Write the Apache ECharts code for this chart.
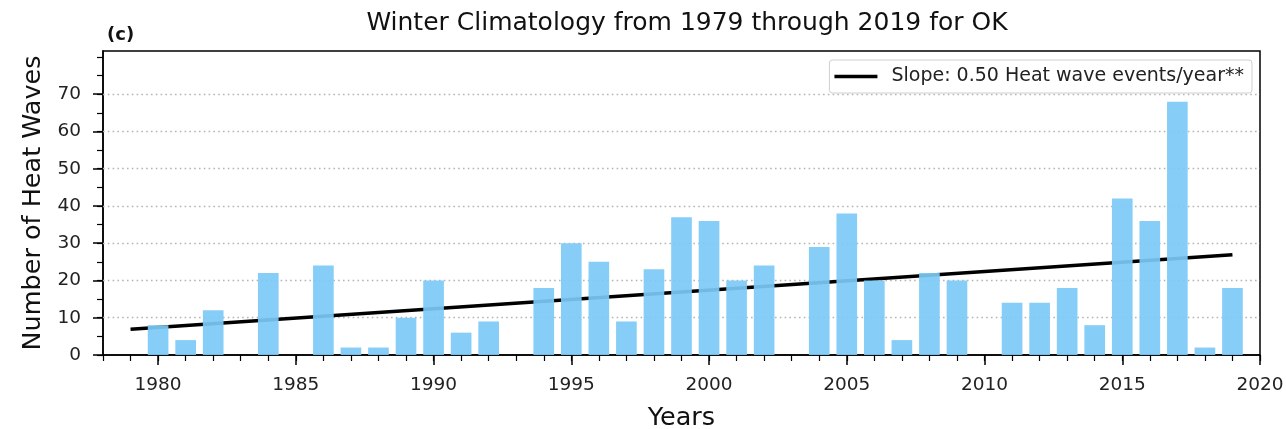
<!DOCTYPE html>
<html>
<head>
<meta charset="utf-8">
<script src="https://cdn.jsdelivr.net/npm/echarts@6/dist/echarts.min.js"></script>
<style>
  html, body { margin: 0; padding: 0; background: #fff; }
  #chart { width: 1286px; height: 429px; }
</style>
</head>
<body>
<div id="chart"></div>
<script>
// Winter heat wave counts for Oklahoma, 1979-2019
const years = [1979, 1980, 1981, 1982, 1983, 1984, 1985, 1986, 1987, 1988,
               1989, 1990, 1991, 1992, 1993, 1994, 1995, 1996, 1997, 1998,
               1999, 2000, 2001, 2002, 2003, 2004, 2005, 2006, 2007, 2008,
               2009, 2010, 2011, 2012, 2013, 2014, 2015, 2016, 2017, 2018, 2019];
const heatWaves = [0, 8, 4, 12, 0, 22, 0, 24, 2, 2,
                   10, 20, 6, 9, 0, 18, 30, 25, 9, 23,
                   37, 36, 20, 24, 0, 29, 38, 20, 4, 22,
                   20, 0, 14, 14, 18, 8, 42, 36, 68, 2, 18];
const trendSlope = 0.50;
const trendLabel = 'Slope: 0.50 Heat wave events/year**';

const xMajorTicks = [1980, 1985, 1990, 1995, 2000, 2005, 2010, 2015, 2020];
const xMinorTicks = [1978, 1979, 1980, 1981, 1982, 1983, 1984, 1985, 1986, 1987, 1988, 1989,
                     1990, 1991, 1992, 1993, 1994, 1995, 1996, 1997, 1998, 1999,
                     2000, 2001, 2002, 2003, 2004, 2005, 2006, 2007, 2008, 2009,
                     2010, 2011, 2012, 2013, 2014, 2015, 2016, 2017, 2018, 2019, 2020];
const yMajorTicks = [0, 10, 20, 30, 40, 50, 60, 70];
const yMinorTicks = [0, 5, 10, 15, 20, 25, 30, 35, 40, 45, 50, 55, 60, 65, 70, 75, 80];
const gridValues = [10, 20, 30, 40, 50, 60, 70];

// Trend line: the stated slope through the mean point of the series
const meanX = years.reduce((a, b) => a + b, 0) / years.length;
const meanY = heatWaves.reduce((a, b) => a + b, 0) / heatWaves.length;
const x0 = years[0], x1 = years[years.length - 1];
const trendData = [
  [x0, meanY + trendSlope * (x0 - meanX)],
  [x1, meanY + trendSlope * (x1 - meanX)]
];

const FONT = 'DejaVu Sans';
const X_MIN = 1978, X_MAX = 2020, Y_MAX = 81.6;

const chart = echarts.init(document.getElementById('chart'), null, { renderer: 'canvas' });

const option = {
  backgroundColor: '#fff',
  animation: false,
  textStyle: { fontFamily: FONT },
  title: [
    {
      text: 'Winter Climatology from 1979 through 2019 for OK',
      left: 682, top: 6, textAlign: 'center',
      textStyle: { fontFamily: FONT, fontSize: 25, fontWeight: 'normal', color: '#111' }
    },
    {
      text: '(c)',
      left: 102, top: 21,
      textStyle: { fontFamily: FONT, fontSize: 18, fontWeight: 'bold', color: '#111' }
    }
  ],
  legend: {
    data: [{ name: trendLabel, icon: 'rect' }],
    right: 34, top: 60,
    itemWidth: 43, itemHeight: 3.5, itemGap: 10,
    padding: [7, 8, 7, 5],
    backgroundColor: '#fff',
    borderColor: '#cfcfcf', borderWidth: 1, borderRadius: 3,
    textStyle: { fontFamily: FONT, fontSize: 19, color: '#222', padding: [0, 0, 0, 9] }
  },
  grid: {
    left: 103, right: 26, top: 51, bottom: 74,
    outerBoundsMode: 'none',
    containLabel: false,
    show: true, borderColor: '#000', borderWidth: 1.5, backgroundColor: 'transparent'
  },
  xAxis: [
    {
      type: 'value', min: X_MIN, max: X_MAX, position: 'bottom',
      name: 'Years', nameLocation: 'middle', nameGap: 50,
      nameTextStyle: { fontFamily: FONT, fontSize: 25.5, color: '#111' },
      axisLine: { show: true, lineStyle: { color: '#000', width: 1.5 } },
      axisTick: { show: true, customValues: xMajorTicks, length: 10, lineStyle: { color: '#000', width: 1.5 } },
      axisLabel: { show: true, customValues: xMajorTicks, margin: 21,
                   fontFamily: FONT, fontSize: 18.5, color: '#222', formatter: v => String(v) },
      splitLine: { show: false }
    },
    {
      type: 'value', min: X_MIN, max: X_MAX, position: 'bottom',
      axisLine: { show: false },
      axisTick: { show: true, customValues: xMinorTicks, length: 6, lineStyle: { color: '#000', width: 1.2 } },
      axisLabel: { show: false },
      splitLine: { show: false }
    }
  ],
  yAxis: [
    {
      type: 'value', min: 0, max: Y_MAX, position: 'left',
      name: 'Number of Heat Waves', nameLocation: 'middle', nameGap: 57,
      nameTextStyle: { fontFamily: FONT, fontSize: 25.5, color: '#111' },
      axisLine: { show: true, lineStyle: { color: '#000', width: 1.5 } },
      axisTick: { show: true, customValues: yMajorTicks, length: 10, lineStyle: { color: '#000', width: 1.5 } },
      axisLabel: { show: true, customValues: yMajorTicks, margin: 22,
                   fontFamily: FONT, fontSize: 18.5, color: '#222', formatter: v => String(v) },
      splitLine: { show: false }
    },
    {
      type: 'value', min: 0, max: Y_MAX, position: 'left', offset: 0,
      axisLine: { show: false },
      axisTick: { show: true, customValues: yMinorTicks, length: 6, lineStyle: { color: '#000', width: 1.2 } },
      axisLabel: { show: false },
      splitLine: { show: false }
    }
  ],
  series: [
    {
      name: trendLabel,
      type: 'line',
      xAxisIndex: 0, yAxisIndex: 0,
      data: trendData,
      showSymbol: false,
      symbol: 'none',
      z: 2,
      lineStyle: { color: '#000', width: 3.5 },
      itemStyle: { color: '#000' },
      markLine: {
        silent: true,
        symbol: 'none',
        z: 1,
        label: { show: false },
        lineStyle: { color: '#b5b5b5', type: [1.6, 3.2], width: 1.3 },
        data: gridValues.map(v => ({ yAxis: v }))
      }
    },
    {
      name: 'Heat waves',
      type: 'bar',
      xAxisIndex: 0, yAxisIndex: 0,
      data: years.map((y, i) => [y, heatWaves[i]]),
      barWidth: '75%',
      z: 3,
      itemStyle: { color: '#7ccaf6', opacity: 0.92 }
    }
  ]
};

chart.setOption(option);
</script>
</body>
</html>
